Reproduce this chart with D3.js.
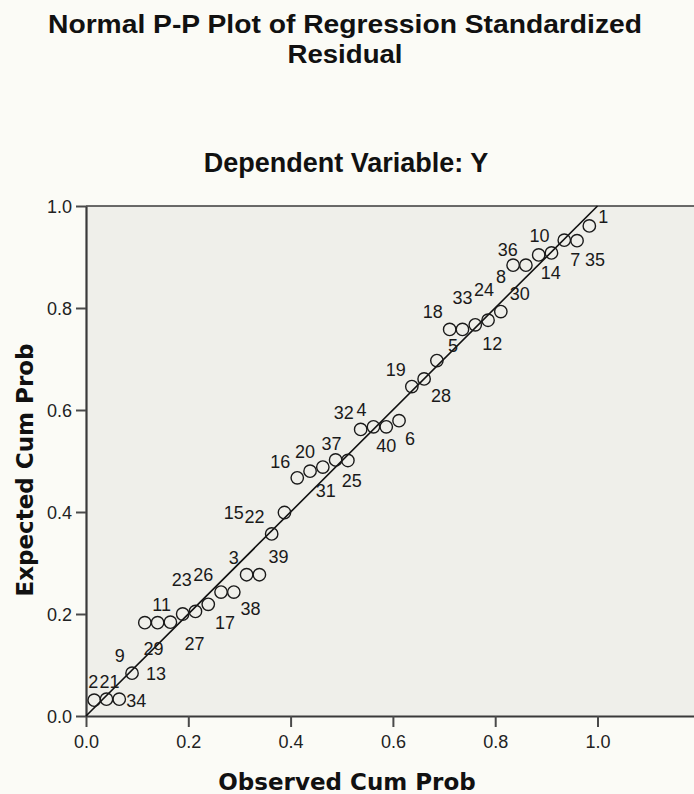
<!DOCTYPE html>
<html>
<head>
<meta charset="utf-8">
<script src="https://cdn.jsdelivr.net/npm/d3@7"></script>
<style>
  html, body { margin: 0; padding: 0; background: #fbfbf6; }
  svg { display: block; }
</style>
</head>
<body>
<script>
// ---- data ----
const titleLines = ["Normal P-P Plot of Regression Standardized", "Residual"];
const subtitle = "Dependent Variable: Y";
const xAxisTitle = "Observed Cum Prob";
const yAxisTitle = "Expected Cum Prob";
const xTicks = [0.0, 0.2, 0.4, 0.6, 0.8, 1.0];
const yTicks = [0.0, 0.2, 0.4, 0.6, 0.8, 1.0];
const observedCumProb = [0.016, 0.040, 0.065, 0.090, 0.115, 0.140, 0.165, 0.189, 0.214, 0.239,
  0.264, 0.289, 0.314, 0.339, 0.363, 0.388, 0.413, 0.438, 0.463, 0.488,
  0.512, 0.537, 0.562, 0.587, 0.612, 0.637, 0.661, 0.686, 0.711, 0.736,
  0.761, 0.786, 0.811, 0.835, 0.860, 0.885, 0.910, 0.935, 0.960, 0.984];
const expectedCumProb = [0.031, 0.033, 0.033, 0.084, 0.183, 0.183, 0.184, 0.200, 0.205, 0.219,
  0.243, 0.243, 0.277, 0.277, 0.357, 0.399, 0.467, 0.480, 0.488, 0.502,
  0.501, 0.562, 0.567, 0.567, 0.579, 0.646, 0.661, 0.697, 0.758, 0.758,
  0.767, 0.776, 0.793, 0.884, 0.884, 0.904, 0.908, 0.933, 0.932, 0.961];
const caseLabels = ["2", "21", "34", "13", "9", "11", "29", "23", "27", "26",
  "17", "3", "38", "39", "15", "22", "16", "20", "31", "37",
  "25", "32", "4", "40", "6", "19", "28", "5", "18", "33",
  "12", "24", "30", "8", "36", "14", "10", "7", "35", "1"];
const identityLine = [0, 1];

// label placement (pixel offsets from the point), layout only
const labelOffsets = [[-1,-19],[3,-18],[17,1],[24,0],[-25,33],[4,-18],[-17,26],[-1,-34],[-1,32],[-5,-30],
  [4,30],[0,-35],[4,34],[19,-18],[-38,-21],[-30,4],[-17,-16],[-5,-20],[3,23],[-4,-16],
  [4,20],[-17,-17],[-12,-17],[0,19],[11,18],[-16,-17],[17,17],[16,-15],[-17,-18],[0,-32],
  [17,19],[-4,-31],[19,-18],[-12,11],[-18,-16],[12,18],[-12,-17],[11,19],[18,19],[14,-9]];

// ---- layout ----
const W = 694, H = 794;
const plot = { left: 86, top: 206, bottom: 716, unit: 511.5 };

const svg = d3.select("body").append("svg")
  .attr("width", W).attr("height", H);

svg.append("rect").attr("width", W).attr("height", H).attr("fill", "#fbfbf6");

const x = d3.scaleLinear().domain([0, 1.2]).range([plot.left, plot.left + 1.2 * plot.unit]);
const y = d3.scaleLinear().domain([0, 1]).range([plot.bottom, plot.top]);

// plot background
svg.append("rect")
  .attr("x", x(0)).attr("y", y(1))
  .attr("width", x(1.2) - x(0)).attr("height", y(0) - y(1))
  .attr("fill", "#efefea");

// top frame line
svg.append("line")
  .attr("x1", x(0)).attr("x2", x(1.2))
  .attr("y1", y(1)).attr("y2", y(1))
  .attr("stroke", "#3a3a3a").attr("stroke-width", 1.6);

// axes
const xAxis = d3.axisBottom(x).tickValues(xTicks).tickFormat(d3.format(".1f"))
  .tickSize(11).tickSizeOuter(0).tickPadding(8);
const yAxis = d3.axisLeft(y).tickValues(yTicks).tickFormat(d3.format(".1f"))
  .tickSize(10).tickSizeOuter(0).tickPadding(4);

const gx = svg.append("g").attr("transform", `translate(0,${y(0)})`).call(xAxis);
const gy = svg.append("g").attr("transform", `translate(${x(0)},0)`).call(yAxis);

[gx, gy].forEach(g => {
  g.select(".domain").attr("stroke", "#3a3a3a").attr("stroke-width", 2.2);
  g.selectAll(".tick line").attr("stroke", "#4a4a4a").attr("stroke-width", 2);
  g.selectAll(".tick text")
    .attr("fill", "#222")
    .style("font-family", "'Liberation Sans', Arial, sans-serif")
    .style("font-size", "18px");
});
gy.selectAll(".tick text").attr("dy", "0.36em");

// identity reference line
svg.append("line")
  .attr("x1", x(identityLine[0])).attr("y1", y(identityLine[0]))
  .attr("x2", x(identityLine[1])).attr("y2", y(identityLine[1]))
  .attr("stroke", "#111").attr("stroke-width", 1.6);

// points
const pts = observedCumProb.map((v, i) => ({
  ox: v, ey: expectedCumProb[i], label: caseLabels[i], off: labelOffsets[i]
}));

svg.append("g").selectAll("circle").data(pts).join("circle")
  .attr("cx", d => x(d.ox)).attr("cy", d => y(d.ey))
  .attr("r", 6.2)
  .attr("fill", "none").attr("stroke", "#1a1a1a").attr("stroke-width", 1.4);

svg.append("g").selectAll("text").data(pts).join("text")
  .attr("x", d => x(d.ox) + d.off[0])
  .attr("y", d => y(d.ey) + d.off[1])
  .attr("dy", "0.36em")
  .attr("text-anchor", "middle")
  .style("font-family", "'Liberation Sans', Arial, sans-serif")
  .style("font-size", "18px")
  .attr("fill", "#1a1a1a")
  .text(d => d.label);

// titles
const titleFont = "'Liberation Sans', Arial, sans-serif";
svg.append("text").attr("x", 345).attr("y", 33).attr("text-anchor", "middle")
  .attr("textLength", 594).attr("lengthAdjust", "spacingAndGlyphs")
  .style("font-family", titleFont).style("font-weight", "bold").style("font-size", "26px")
  .attr("fill", "#111").text(titleLines[0]);
svg.append("text").attr("x", 345).attr("y", 63).attr("text-anchor", "middle")
  .attr("textLength", 115).attr("lengthAdjust", "spacingAndGlyphs")
  .style("font-family", titleFont).style("font-weight", "bold").style("font-size", "26px")
  .attr("fill", "#111").text(titleLines[1]);
svg.append("text").attr("x", 346).attr("y", 172).attr("text-anchor", "middle")
  .style("font-family", titleFont).style("font-weight", "bold").style("font-size", "27px")
  .attr("fill", "#111").text(subtitle);

// axis titles
const axisFont = "'DejaVu Sans', Verdana, sans-serif";
svg.append("text").attr("x", 347).attr("y", 790).attr("text-anchor", "middle")
  .style("font-family", axisFont).style("font-weight", "bold").style("font-size", "23px")
  .attr("fill", "#111").text(xAxisTitle);
svg.append("text")
  .attr("transform", "translate(33,470) rotate(-90)")
  .attr("text-anchor", "middle")
  .style("font-family", axisFont).style("font-weight", "bold").style("font-size", "23px")
  .attr("fill", "#111").text(yAxisTitle);
</script>
</body>
</html>
